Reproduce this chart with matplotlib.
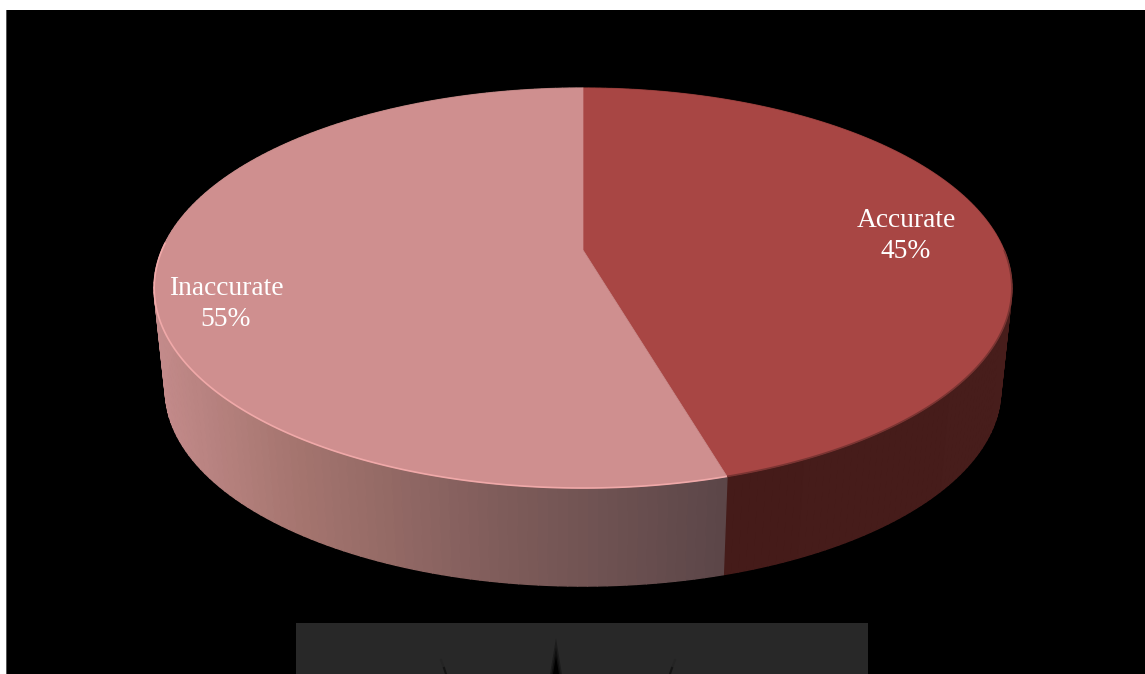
import numpy as np
import matplotlib
matplotlib.use("Agg")
import matplotlib.pyplot as plt
from matplotlib.patches import Rectangle, Polygon
from matplotlib.collections import PolyCollection
from matplotlib.colors import to_rgb

# chart data
names = ["Accurate", "Inaccurate"]
values = [45, 55]

top_colors = ["#a84644", "#cf8f8f"]
rim_colors = ["#7a3432", "#f0a9a9"]
rim_spans = [(90, 162), (162, 272)]
side_x = [[723, 1010], [160, 300, 500, 723]]
side_colors = [["#451b19", "#471d1b"], ["#c48b8b", "#a5756f", "#7f5c5a", "#5b4648"]]
label_pos = [(906, 236), (226, 304)]

# view of the disc, in pixels
CX, APEX_Y = 583, 250
K = 0.19
R, S = 421, 192.8
DEPTH_X, DEPTH_Y, DEPTH_C = 0.974, 0.98, 107.8


def top_xy(t):
    # t is clockwise degrees from twelve o'clock, perspective on a flat disc
    t = np.radians(t - 3 * np.sin(np.radians(2 * t)))
    u, v = np.sin(t), -np.cos(t)
    w = 1 - K * v
    return CX + R * u / w, APEX_Y + S * v / w


def bottom_xy(t):
    x, y = top_xy(t)
    return CX + (x - CX) * DEPTH_X, y * DEPTH_Y + DEPTH_C


fig = plt.figure(figsize=(11.45, 6.74), dpi=100, facecolor="white")
ax = fig.add_axes([0, 0, 1, 1])
ax.set_xlim(0, 1145)
ax.set_ylim(674, 0)
ax.axis("off")

# backdrop and the strip below the pie
ax.add_patch(Rectangle((6, 10), 1139, 664, fc="black", ec="none", zorder=0))
ax.add_patch(Rectangle((6, 10), 1, 664, fc="#555555", ec="none", zorder=0))
ax.add_patch(Rectangle((296, 623), 572, 51, fc="#282828", ec="none", zorder=0))

# the spike fades in from the strip colour towards black
for half, shade in [(6, "#1c1c1c"), (4.5, "#101010"), (3, "#000000")]:
    tip = 674 - half * 6
    ax.add_patch(Polygon([(556, tip), (556 - half, 674), (556 + half, 674)], fc=shade, ec="none", zorder=1))
ax.plot([441, 444], [660, 668], color="#242424", lw=1.5, zorder=1)
ax.plot([444, 446], [668, 674], color="#141414", lw=1.5, zorder=1)
ax.plot([675, 672], [660, 668], color="#242424", lw=1.5, zorder=1)
ax.plot([672, 670], [668, 674], color="#141414", lw=1.5, zorder=1)

shares = np.array(values) / sum(values) * 360
starts = np.concatenate([[0], np.cumsum(shares)[:-1]])

# side walls first, banded from left to right
for i in range(len(values)):
    ts = np.linspace(starts[i], starts[i] + shares[i], 160)
    tx, ty = top_xy(ts)
    bx, by = bottom_xy(ts)
    rgb = np.array([to_rgb(c) for c in side_colors[i]])
    quads, cols = [], []
    for j in range(len(ts) - 1):
        quads.append([(tx[j], ty[j]), (tx[j + 1], ty[j + 1]), (bx[j + 1], by[j + 1]), (bx[j], by[j])])
        mid = (bx[j] + bx[j + 1]) / 2
        cols.append([np.interp(mid, side_x[i], rgb[:, c]) for c in range(3)])
    ax.add_collection(PolyCollection(quads, facecolors=cols, edgecolors=cols, linewidths=1.0, zorder=2))

# top face
for i in range(len(values)):
    ts = np.linspace(starts[i], starts[i] + shares[i], 240)
    tx, ty = top_xy(ts)
    pts = [(CX, APEX_Y)] + list(zip(tx, ty))
    ax.add_patch(Polygon(pts, fc=top_colors[i], ec=top_colors[i], lw=0.5, zorder=3))
    rx, ry = top_xy(np.linspace(rim_spans[i][0], rim_spans[i][1], 120))
    ax.plot(rx, ry, color=rim_colors[i], lw=1.2, zorder=4, solid_capstyle="butt")
    lx, ly = label_pos[i]
    ax.text(lx, ly, f"{names[i]}\n{values[i]}%", color="white", ha="center", va="center",
            family="Liberation Serif", fontsize=19.8, linespacing=1.33, zorder=5)

fig.savefig("out.png", dpi=100)
